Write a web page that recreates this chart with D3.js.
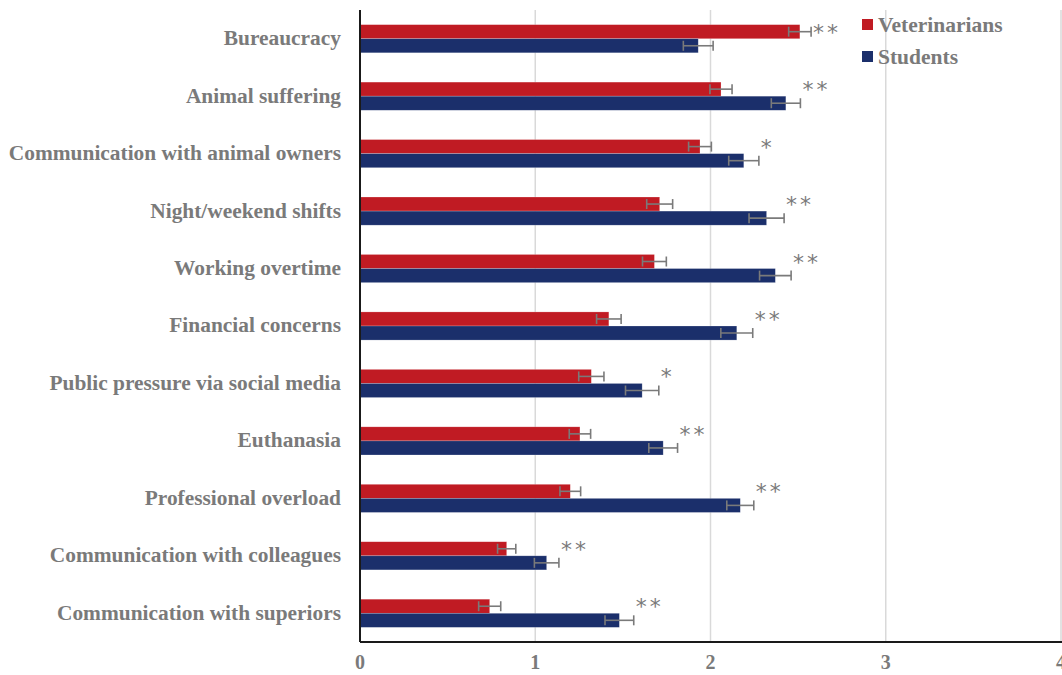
<!DOCTYPE html>
<html>
<head>
<meta charset="utf-8">
<script src="https://cdn.jsdelivr.net/npm/d3@7"></script>
<style>
  body { margin: 0; background: #fff; }
  text { font-family: "Liberation Serif", "Times New Roman", serif; font-weight: bold; }
</style>
</head>
<body>
<div id="chart"></div>
<script>
const categories = [
  "Bureaucracy",
  "Animal suffering",
  "Communication with animal owners",
  "Night/weekend shifts",
  "Working overtime",
  "Financial concerns",
  "Public pressure via social media",
  "Euthanasia",
  "Professional overload",
  "Communication with colleagues",
  "Communication with superiors"
];
const vetValues = [2.51, 2.06, 1.94, 1.71, 1.68, 1.42, 1.32, 1.255, 1.2, 0.837, 0.74];
const vetErrors = [0.064, 0.063, 0.065, 0.074, 0.068, 0.07, 0.072, 0.061, 0.059, 0.052, 0.063];
const studentValues = [1.93, 2.43, 2.19, 2.32, 2.37, 2.15, 1.61, 1.73, 2.17, 1.065, 1.48];
const studentErrors = [0.085, 0.083, 0.086, 0.1, 0.09, 0.091, 0.095, 0.082, 0.077, 0.07, 0.082];
const significance = ["**", "**", "*", "**", "**", "**", "*", "**", "**", "**", "**"];
const xTicks = [0, 1, 2, 3, 4];

const seriesNames = ["Veterinarians", "Students"];
const colors = ["#C01B23", "#1B2F6B"];
const grey = "#7a7a7a";

const W = 1062, H = 675;
const margin = { top: 10, right: 1, bottom: 33, left: 360 };
const width = W - margin.left - margin.right;
const height = H - margin.top - margin.bottom;

const svg = d3.select("#chart").append("svg")
  .attr("width", W).attr("height", H);
const g = svg.append("g").attr("transform", `translate(${margin.left},${margin.top})`);

const x = d3.scaleLinear().domain([0, 4]).range([0, width]);
const y = d3.scaleBand().domain(categories).range([0, height]).paddingInner(0.51).paddingOuter(0.255);
const ySub = d3.scaleBand().domain(seriesNames).range([0, y.bandwidth()]);

// gridlines
g.selectAll("line.grid").data(xTicks.slice(1)).enter().append("line")
  .attr("class", "grid")
  .attr("x1", d => x(d)).attr("x2", d => x(d))
  .attr("y1", 0).attr("y2", height)
  .attr("stroke", "#d9d9d9").attr("stroke-width", 1.5);

const rows = categories.map((c, i) => ({
  cat: c,
  vals: [
    { s: seriesNames[0], v: vetValues[i], e: vetErrors[i], c: colors[0] },
    { s: seriesNames[1], v: studentValues[i], e: studentErrors[i], c: colors[1] }
  ],
  sig: significance[i]
}));

const groups = g.selectAll("g.row").data(rows).enter().append("g")
  .attr("class", "row")
  .attr("transform", d => `translate(0,${y(d.cat)})`);

groups.selectAll("rect").data(d => d.vals).enter().append("rect")
  .attr("x", 0)
  .attr("y", d => ySub(d.s))
  .attr("width", d => x(d.v))
  .attr("height", ySub.bandwidth())
  .attr("fill", d => d.c)
  .attr("stroke", "#ffffff").attr("stroke-opacity", 0.35).attr("stroke-width", 0.6);

// error bars
const eb = groups.selectAll("g.err").data(d => d.vals).enter().append("g")
  .attr("class", "err")
  .attr("stroke", grey).attr("stroke-width", 1.6);
eb.append("line")
  .attr("x1", d => x(d.v - d.e)).attr("x2", d => x(d.v + d.e))
  .attr("y1", d => ySub(d.s) + ySub.bandwidth() / 2)
  .attr("y2", d => ySub(d.s) + ySub.bandwidth() / 2);
eb.selectAll("line.cap").data(d => [d.v - d.e, d.v + d.e].map(p => ({ p, d }))).enter().append("line")
  .attr("class", "cap")
  .attr("x1", o => x(o.p)).attr("x2", o => x(o.p))
  .attr("y1", o => ySub(o.d.s) + ySub.bandwidth() / 2 - 5)
  .attr("y2", o => ySub(o.d.s) + ySub.bandwidth() / 2 + 5);

// significance markers
groups.append("text")
  .attr("x", d => x(d3.max(d.vals, v => v.v + v.e)) + 2)
  .attr("y", y.bandwidth() / 2 + 1)
  .attr("fill", grey)
  .style("font-family", "'DejaVu Sans', sans-serif")
  .style("font-weight", "normal")
  .style("font-size", "22px")
  .style("letter-spacing", "3px")
  .text(d => d.sig);

// axes lines
g.append("line").attr("x1", 0).attr("x2", 0).attr("y1", 0).attr("y2", height)
  .attr("stroke", "#1a1a1a").attr("stroke-width", 2);
g.append("line").attr("x1", 0).attr("x2", width + margin.right).attr("y1", height).attr("y2", height)
  .attr("stroke", "#1a1a1a").attr("stroke-width", 2);

// y labels
g.selectAll("text.ylab").data(categories).enter().append("text")
  .attr("class", "ylab")
  .attr("x", -19)
  .attr("y", d => y(d) + y.bandwidth() / 2 - 1)
  .attr("dy", "0.35em")
  .attr("text-anchor", "end")
  .attr("fill", grey)
  .style("font-size", "21.4px")
  .text(d => d);

// x tick labels
g.selectAll("text.xlab").data(xTicks).enter().append("text")
  .attr("class", "xlab")
  .attr("x", d => x(d))
  .attr("y", height + 27)
  .attr("text-anchor", "middle")
  .attr("fill", grey)
  .style("font-size", "20px")
  .text(d => d);

// legend
const legend = svg.append("g").attr("transform", "translate(862,16)");
seriesNames.forEach((s, i) => {
  const lg = legend.append("g").attr("transform", `translate(0,${i * 32})`);
  lg.append("rect").attr("x", 0).attr("y", 3).attr("width", 11).attr("height", 11).attr("fill", colors[i]);
  lg.append("text").attr("x", 16).attr("y", 8).attr("dy", "0.35em")
    .attr("fill", grey).style("font-size", "21.5px").text(s);
});
</script>
</body>
</html>
